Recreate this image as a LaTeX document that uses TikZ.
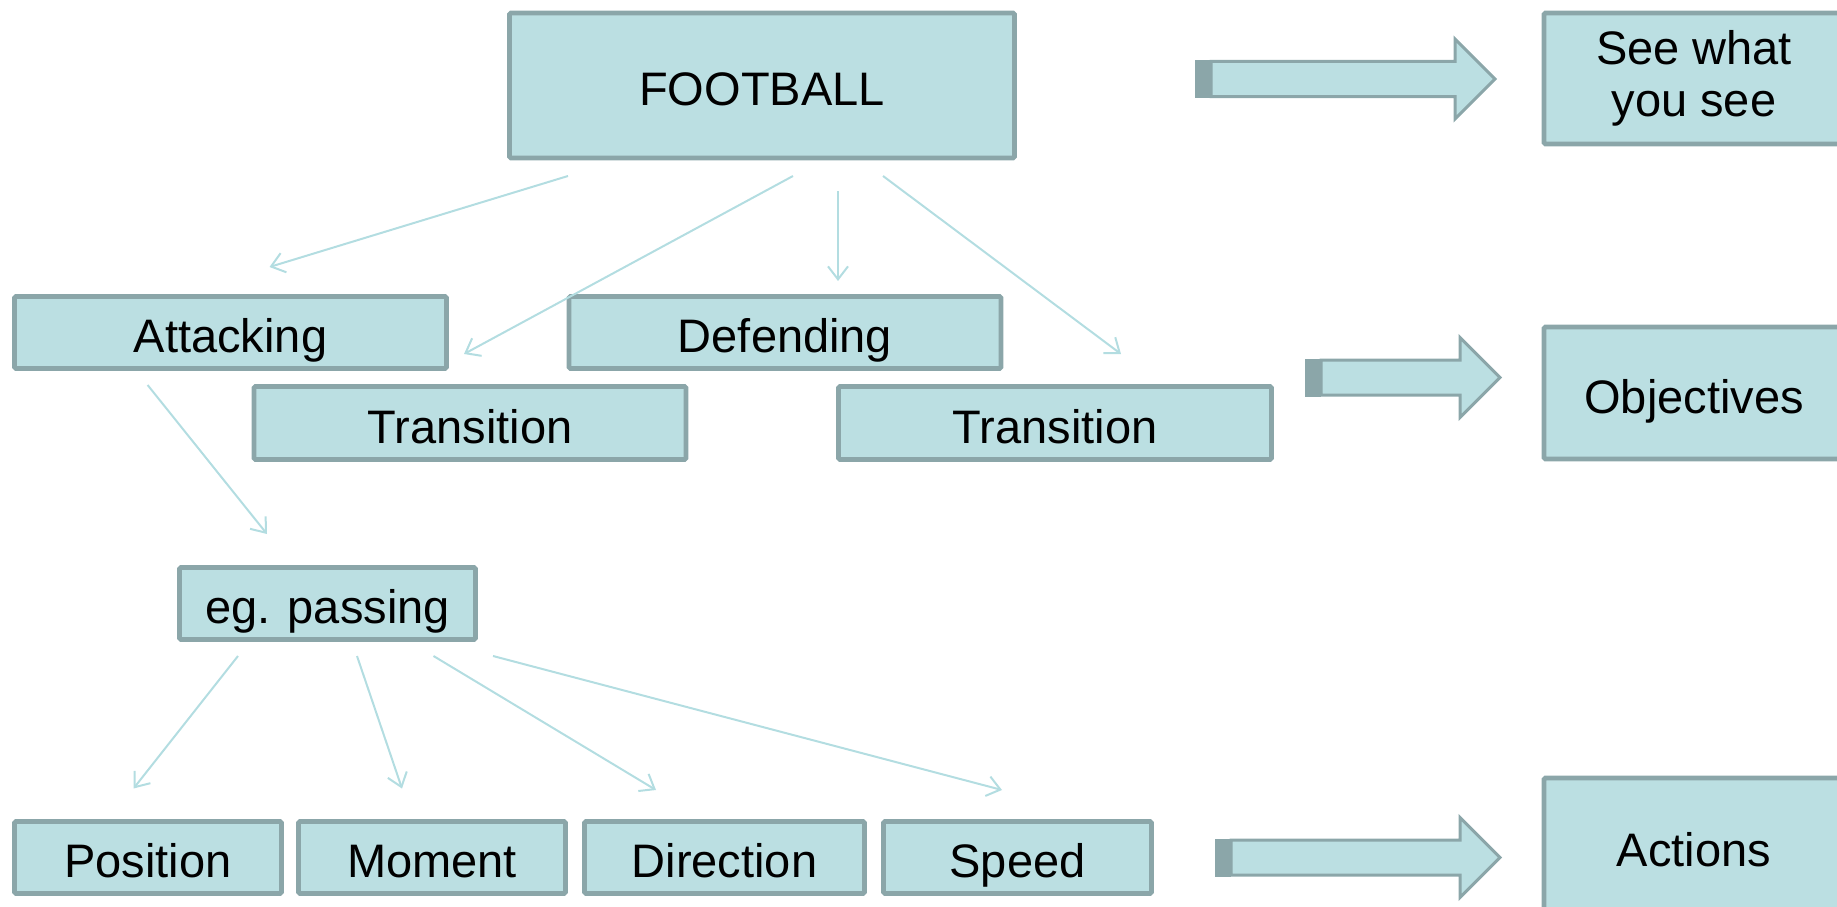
\documentclass[tikz,border=0pt]{standalone}
\usepackage{fontspec}
\setmainfont{Liberation Sans}
\usetikzlibrary{arrows.meta}
\definecolor{boxfill}{HTML}{BBDFE2}
\definecolor{boxline}{HTML}{8BA6A9}
\definecolor{linkcol}{HTML}{B3DDE1}
% block arrow: tail x, head base x, tip x, centre y
\newcommand\fatarrow[4]{%
  \fill[boxline] (#1,#4-19) rectangle (#1+16,#4+19);
  \draw[boxline, fill=boxfill, line width=3pt, line join=miter]
    (#1+16,#4-17.5) -- (#2,#4-17.5) -- (#2,#4-40) -- (#3,#4)
    -- (#2,#4+40) -- (#2,#4+17.5) -- (#1+16,#4+17.5) -- cycle;
}
\begin{document}
\begin{tikzpicture}[x=1pt,y=-1pt,
  box/.style={draw=boxline, fill=boxfill, line width=4.8pt, rounded corners=1.5pt,
    inner sep=0pt, align=center, font=\fontsize{47}{52}\selectfont},
  oneline/.style={text height=40pt, text depth=0pt},
  link/.style={draw=linkcol, line width=2pt, -{Straight Barb[length=13pt,width=20pt]}}]
\useasboundingbox (0,0) rectangle (1837,907);
\clip (0,0) rectangle (1837,907);

% main tree
\node[box, oneline, minimum width=505pt, minimum height=145pt] (football) at (762,85.5) {FOOTBALL};
\node[box, oneline, minimum width=432pt, minimum height=72pt] (attacking) at (230.5,332.5) {Attacking};
\node[box, oneline, minimum width=432pt, minimum height=72pt] (defending) at (785,332.5) {Defending};
\node[box, oneline, minimum width=432pt, minimum height=73pt] (transA) at (470,423) {Transition};
\node[box, oneline, minimum width=433pt, minimum height=73pt] (transB) at (1055,423) {Transition};
\node[box, oneline, minimum width=296pt, minimum height=72pt] (passing) at (327.5,603.5) {eg. passing};
\node[box, oneline, minimum width=267pt, minimum height=72pt] (position) at (148,857.5) {Position};
\node[box, oneline, minimum width=267pt, minimum height=72pt] (moment) at (432,857.5) {Moment};
\node[box, oneline, minimum width=280pt, minimum height=72pt] (direction) at (724.5,857.5) {Direction};
\node[box, oneline, minimum width=268pt, minimum height=72pt] (speed) at (1017.5,857.5) {Speed};

% right column
\node[box, minimum width=300pt, minimum height=131pt] (see) at (1694,78.5) {See what\\you see};
\node[box, oneline, minimum width=300pt, minimum height=132pt] (objectives) at (1694,393) {Objectives};
\node[box, oneline, minimum width=300pt, minimum height=136pt] (actions) at (1694,846) {Actions};

% block arrows
\fatarrow{1195}{1455}{1495}{79}
\fatarrow{1305}{1460}{1500}{377.5}
\fatarrow{1215}{1460}{1500}{857.5}

% connector ends
\coordinate (f1) at (568,176);   \coordinate (a1) at (269.5,267);
\coordinate (f2) at (793,176);   \coordinate (t1) at (464,354);
\coordinate (f3) at (838,191);   \coordinate (d1) at (838,281);
\coordinate (f4) at (883,176);   \coordinate (t2) at (1121,354);
\coordinate (a2) at (147.6,385); \coordinate (p0) at (267,534);
\coordinate (p1) at (238,656);   \coordinate (q1) at (133.5,788.5);
\coordinate (p2) at (357,656);   \coordinate (q2) at (402,788.5);
\coordinate (p3) at (433.5,656); \coordinate (q3) at (656,790);
\coordinate (p4) at (493,656);   \coordinate (q4) at (1002,790);

\draw[link] (f1) -- (a1);
\draw[link] (f2) -- (t1);
\draw[link] (f3) -- (d1);
\draw[link] (f4) -- (t2);
\draw[link] (a2) -- (p0);
\draw[link] (p1) -- (q1);
\draw[link] (p2) -- (q2);
\draw[link] (p3) -- (q3);
\draw[link] (p4) -- (q4);
\end{tikzpicture}
\end{document}
